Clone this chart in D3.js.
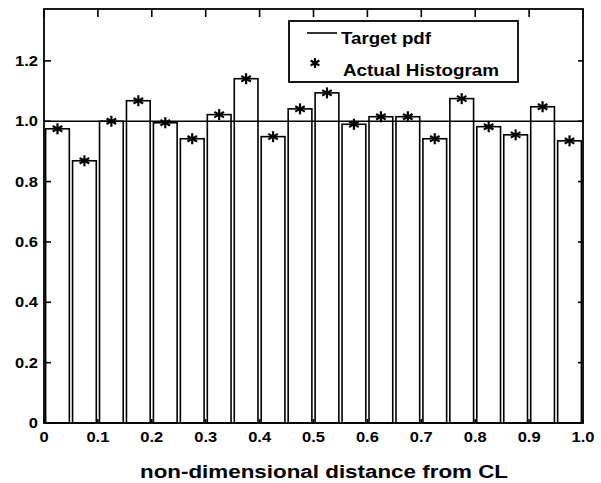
<!DOCTYPE html>
<html>
<head>
<meta charset="utf-8">
<script src="https://cdn.jsdelivr.net/npm/d3@7"></script>
<style>
  body { margin: 0; background: #fff; }
  text { font-family: "Liberation Sans", Arial, sans-serif; font-weight: bold; fill: #000; }
</style>
</head>
<body>
<div id="chart"></div>
<script>
// bin centres and histogram heights
const binCenters = [0.025, 0.075, 0.125, 0.175, 0.225, 0.275, 0.325, 0.375, 0.425, 0.475,
                    0.525, 0.575, 0.625, 0.675, 0.725, 0.775, 0.825, 0.875, 0.925, 0.975];
const histValues = [0.975, 0.869, 1.0, 1.068, 0.995, 0.942, 1.022, 1.141, 0.949, 1.041,
                    1.094, 0.99, 1.015, 1.015, 0.942, 1.075, 0.982, 0.955, 1.048, 0.935];
const targetPdf = 1.0;
const xTicks = [0, 0.1, 0.2, 0.3, 0.4, 0.5, 0.6, 0.7, 0.8, 0.9, 1.0];
const yTicks = [0, 0.2, 0.4, 0.6, 0.8, 1.0, 1.2];
const legendLabels = ["Target pdf", "Actual Histogram"];

const W = 601, H = 483;
const margin = { top: 9, right: 18, bottom: 60, left: 44 };
const width = W - margin.left - margin.right,
      height = H - margin.top - margin.bottom;

const svg = d3.select("#chart").append("svg")
  .attr("width", W).attr("height", H);

const g = svg.append("g")
  .attr("transform", `translate(${margin.left},${margin.top})`);

const x = d3.scaleLinear().domain([0, 1]).range([0, width]);
const y = d3.scaleLinear().domain([0, 1.372]).range([height, 0]);

const barW = 0.044;

// bars
g.selectAll(".bar")
  .data(histValues)
  .enter()
  .append("rect")
  .attr("x", (d, i) => x(binCenters[i] - barW / 2))
  .attr("y", d => y(d))
  .attr("width", x(barW) - x(0))
  .attr("height", d => y(0) - y(d))
  .attr("fill", "none")
  .attr("stroke", "#000")
  .attr("stroke-width", 1.6);

// target pdf line
g.append("line")
  .attr("x1", x(0)).attr("x2", x(1))
  .attr("y1", y(targetPdf)).attr("y2", y(targetPdf))
  .attr("stroke", "#000").attr("stroke-width", 1.6);

// asterisk marker
function star(sel, cx, cy, r) {
  const a = r * 0.87, b = r * 0.5;
  const segs = [[0, -r, 0, r], [-a, -b, a, b], [-a, b, a, -b]];
  segs.forEach(s => sel.append("line")
    .attr("x1", cx + s[0]).attr("y1", cy + s[1])
    .attr("x2", cx + s[2]).attr("y2", cy + s[3])
    .attr("stroke", "#000").attr("stroke-width", 2.2));
}

histValues.forEach((d, i) => star(g, x(binCenters[i]), y(d), 5.5));

// frame
g.append("rect")
  .attr("x", 0).attr("y", 0)
  .attr("width", width).attr("height", height)
  .attr("fill", "none").attr("stroke", "#000").attr("stroke-width", 1.8);

// stretched tick label (the source picture is a bit wider than tall)
function label(sel, px, py, txt, anchor) {
  sel.append("text")
    .attr("transform", `translate(${px},${py}) scale(1.18,1)`)
    .attr("text-anchor", anchor)
    .style("font-size", "14px")
    .text(txt);
}

// x ticks (inward, bottom and top)
xTicks.forEach(t => {
  g.append("line").attr("x1", x(t)).attr("x2", x(t))
    .attr("y1", height).attr("y2", height - 4)
    .attr("stroke", "#000").attr("stroke-width", 1.6);
  g.append("line").attr("x1", x(t)).attr("x2", x(t))
    .attr("y1", 0).attr("y2", 8)
    .attr("stroke", "#000").attr("stroke-width", 1.6);
  label(g, x(t), height + 19, t === 0 ? "0" : t.toFixed(1), "middle");
});

// y ticks (inward, left and right)
yTicks.forEach(t => {
  g.append("line").attr("x1", 0).attr("x2", 7)
    .attr("y1", y(t)).attr("y2", y(t))
    .attr("stroke", "#000").attr("stroke-width", 1.6);
  g.append("line").attr("x1", width).attr("x2", width - 5)
    .attr("y1", y(t)).attr("y2", y(t))
    .attr("stroke", "#000").attr("stroke-width", 1.6);
  label(g, -6, y(t) + 5, t === 0 ? "0" : t.toFixed(1), "end");
});

// x label
svg.append("text")
  .attr("x", 140).attr("y", 478)
  .attr("textLength", 368).attr("lengthAdjust", "spacingAndGlyphs")
  .style("font-size", "18px")
  .text("non-dimensional distance from CL");

// legend
const lg = svg.append("g");
lg.append("rect")
  .attr("x", 289).attr("y", 21).attr("width", 229).attr("height", 61)
  .attr("fill", "#fff").attr("stroke", "#000").attr("stroke-width", 1.8);
lg.append("line")
  .attr("x1", 307).attr("x2", 337).attr("y1", 33).attr("y2", 33)
  .attr("stroke", "#000").attr("stroke-width", 1.6);
lg.append("text").attr("x", 341).attr("y", 44)
  .attr("textLength", 90).attr("lengthAdjust", "spacingAndGlyphs")
  .style("font-size", "17px").text(legendLabels[0]);
star(lg, 315, 63, 5);
lg.append("text").attr("x", 343).attr("y", 76)
  .attr("textLength", 156).attr("lengthAdjust", "spacingAndGlyphs")
  .style("font-size", "17px").text(legendLabels[1]);
</script>
</body>
</html>
